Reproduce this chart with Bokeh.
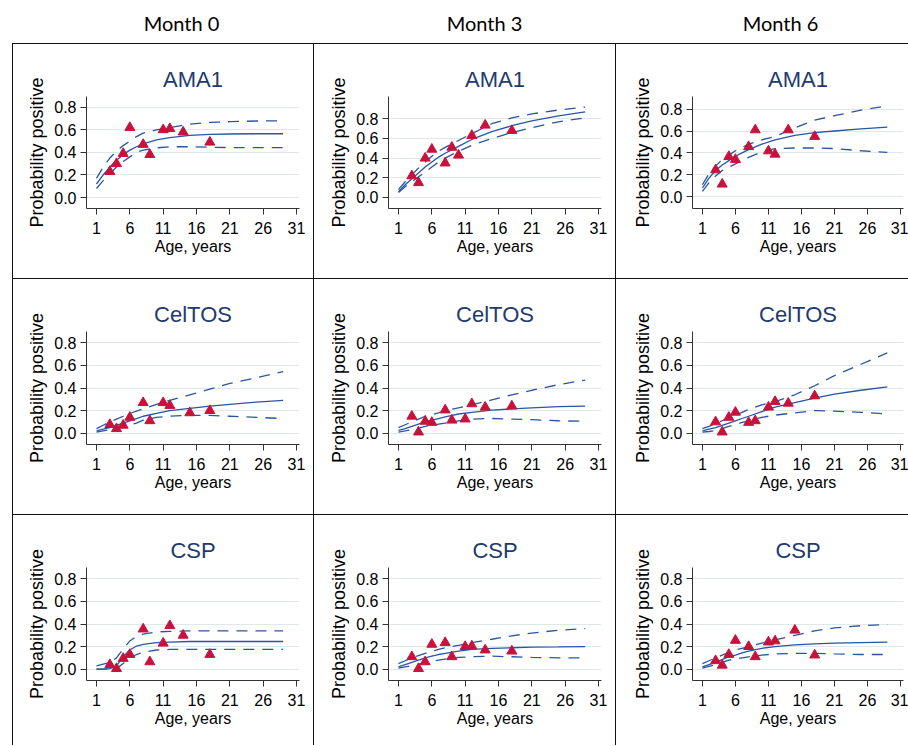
from bokeh.plotting import figure
from bokeh.layouts import column, row
from bokeh.models import Range1d, FixedTicker, PrintfTickFormatter
from bokeh.embed import file_html
from bokeh.resources import INLINE
from bokeh.core.properties import value

# ---------------- data ----------------
months = ["Month 0", "Month 3", "Month 6"]
antigens = ["AMA1", "CelTOS", "CSP"]
x_ticks = [1, 6, 11, 16, 21, 26, 31]
y_ticks = [0.0, 0.2, 0.4, 0.6, 0.8]

# ages at which the fitted curve and its confidence limits are read
fit_age = [1, 2, 3, 4, 5, 6, 7, 8, 10, 12, 15, 18, 21, 25, 29]

# AMA1, Month 0
ama1_m0_age = [3, 4, 5, 6, 8, 9, 11, 12, 14, 18]
ama1_m0_obs = [0.23, 0.30, 0.39, 0.62, 0.47, 0.38, 0.60, 0.61, 0.58, 0.49]
ama1_m0_fit = [0.12, 0.20, 0.27, 0.33, 0.38, 0.42, 0.45, 0.475, 0.51, 0.53, 0.55, 0.56, 0.563, 0.565, 0.565]
ama1_m0_hi = [0.17, 0.27, 0.35, 0.41, 0.46, 0.50, 0.54, 0.57, 0.60, 0.62, 0.65, 0.665, 0.672, 0.678, 0.68]
ama1_m0_lo = [0.08, 0.15, 0.21, 0.27, 0.32, 0.36, 0.40, 0.42, 0.44, 0.45, 0.45, 0.445, 0.443, 0.442, 0.442]

# AMA1, Month 3
ama1_m3_age = [3, 4, 5, 6, 8, 9, 10, 12, 14, 18]
ama1_m3_obs = [0.22, 0.15, 0.40, 0.49, 0.35, 0.51, 0.43, 0.63, 0.735, 0.68]
ama1_m3_fit = [0.06, 0.13, 0.19, 0.25, 0.31, 0.36, 0.41, 0.45, 0.52, 0.59, 0.67, 0.73, 0.78, 0.83, 0.87]
ama1_m3_hi = [0.08, 0.16, 0.23, 0.30, 0.36, 0.42, 0.47, 0.51, 0.58, 0.65, 0.75, 0.81, 0.85, 0.89, 0.92]
ama1_m3_lo = [0.05, 0.11, 0.16, 0.21, 0.26, 0.31, 0.36, 0.40, 0.47, 0.53, 0.60, 0.66, 0.71, 0.77, 0.81]

# AMA1, Month 6
ama1_m6_age = [3, 4, 5, 6, 8, 9, 11, 12, 14, 18]
ama1_m6_obs = [0.245, 0.115, 0.367, 0.34, 0.457, 0.61, 0.418, 0.388, 0.61, 0.55]
ama1_m6_fit = [0.08, 0.17, 0.24, 0.29, 0.33, 0.37, 0.40, 0.43, 0.48, 0.52, 0.56, 0.585, 0.60, 0.62, 0.635]
ama1_m6_hi = [0.11, 0.21, 0.28, 0.34, 0.38, 0.42, 0.45, 0.48, 0.52, 0.55, 0.63, 0.70, 0.74, 0.79, 0.83]
ama1_m6_lo = [0.05, 0.13, 0.19, 0.24, 0.27, 0.30, 0.33, 0.36, 0.41, 0.44, 0.445, 0.445, 0.44, 0.42, 0.405]

# CelTOS, Month 0
celtos_m0_age = [3, 4, 5, 6, 8, 9, 11, 12, 15, 18]
celtos_m0_obs = [0.076, 0.04, 0.07, 0.14, 0.27, 0.11, 0.27, 0.245, 0.18, 0.20]
celtos_m0_fit = [0.02, 0.035, 0.05, 0.07, 0.09, 0.11, 0.13, 0.15, 0.175, 0.20, 0.22, 0.24, 0.255, 0.275, 0.29]
celtos_m0_hi = [0.04, 0.07, 0.10, 0.125, 0.15, 0.175, 0.195, 0.215, 0.255, 0.29, 0.34, 0.39, 0.44, 0.49, 0.545]
celtos_m0_lo = [0.01, 0.02, 0.03, 0.045, 0.06, 0.075, 0.09, 0.115, 0.14, 0.15, 0.158, 0.158, 0.15, 0.14, 0.13]

# CelTOS, Month 3
celtos_m3_age = [3, 4, 5, 6, 8, 9, 11, 12, 14, 18]
celtos_m3_obs = [0.15, 0.01, 0.105, 0.095, 0.205, 0.115, 0.125, 0.26, 0.23, 0.24]
celtos_m3_fit = [0.025, 0.04, 0.06, 0.08, 0.10, 0.115, 0.13, 0.145, 0.17, 0.185, 0.205, 0.215, 0.225, 0.235, 0.24]
celtos_m3_hi = [0.05, 0.075, 0.10, 0.125, 0.15, 0.165, 0.18, 0.20, 0.225, 0.25, 0.295, 0.34, 0.38, 0.43, 0.47]
celtos_m3_lo = [0.01, 0.02, 0.03, 0.045, 0.06, 0.07, 0.08, 0.09, 0.11, 0.125, 0.13, 0.125, 0.12, 0.11, 0.105]

# CelTOS, Month 6
celtos_m6_age = [3, 4, 5, 6, 8, 9, 11, 12, 14, 18]
celtos_m6_obs = [0.10, 0.01, 0.14, 0.185, 0.095, 0.11, 0.23, 0.28, 0.265, 0.33]
celtos_m6_fit = [0.02, 0.035, 0.05, 0.07, 0.09, 0.11, 0.13, 0.15, 0.19, 0.23, 0.27, 0.31, 0.345, 0.38, 0.41]
celtos_m6_hi = [0.04, 0.06, 0.085, 0.11, 0.135, 0.16, 0.185, 0.21, 0.25, 0.28, 0.34, 0.42, 0.51, 0.61, 0.71]
celtos_m6_lo = [0.01, 0.015, 0.025, 0.04, 0.06, 0.075, 0.095, 0.11, 0.14, 0.16, 0.18, 0.20, 0.195, 0.185, 0.17]

# CSP, Month 0
csp_m0_age = [3, 4, 5, 6, 8, 9, 11, 12, 14, 18]
csp_m0_obs = [0.04, 0.005, 0.095, 0.13, 0.355, 0.065, 0.23, 0.385, 0.30, 0.13]
csp_m0_fit = [0.0, 0.0, 0.005, 0.03, 0.11, 0.17, 0.205, 0.22, 0.235, 0.24, 0.245, 0.245, 0.245, 0.245, 0.245]
csp_m0_hi = [0.03, 0.045, 0.06, 0.10, 0.18, 0.25, 0.29, 0.31, 0.33, 0.335, 0.34, 0.34, 0.34, 0.34, 0.34]
csp_m0_lo = [0.0, 0.0, 0.0, 0.005, 0.05, 0.10, 0.13, 0.15, 0.17, 0.175, 0.175, 0.175, 0.175, 0.175, 0.175]

# CSP, Month 3
csp_m3_age = [3, 4, 5, 6, 8, 9, 11, 12, 14, 18]
csp_m3_obs = [0.11, 0.005, 0.065, 0.22, 0.235, 0.11, 0.20, 0.205, 0.17, 0.16]
csp_m3_fit = [0.02, 0.04, 0.06, 0.08, 0.10, 0.115, 0.13, 0.14, 0.16, 0.175, 0.185, 0.19, 0.195, 0.197, 0.20]
csp_m3_hi = [0.05, 0.075, 0.10, 0.12, 0.14, 0.16, 0.175, 0.19, 0.21, 0.235, 0.265, 0.295, 0.32, 0.345, 0.36]
csp_m3_lo = [0.01, 0.02, 0.03, 0.045, 0.06, 0.07, 0.08, 0.09, 0.105, 0.11, 0.115, 0.11, 0.105, 0.10, 0.10]

# CSP, Month 6
csp_m6_age = [3, 4, 5, 6, 8, 9, 11, 12, 15, 18]
csp_m6_obs = [0.075, 0.035, 0.13, 0.255, 0.20, 0.11, 0.24, 0.25, 0.345, 0.125]
csp_m6_fit = [0.02, 0.04, 0.06, 0.085, 0.11, 0.125, 0.145, 0.16, 0.185, 0.20, 0.215, 0.225, 0.23, 0.235, 0.24]
csp_m6_hi = [0.05, 0.075, 0.10, 0.125, 0.15, 0.17, 0.185, 0.20, 0.23, 0.26, 0.30, 0.34, 0.365, 0.385, 0.395]
csp_m6_lo = [0.01, 0.025, 0.04, 0.06, 0.08, 0.09, 0.10, 0.11, 0.125, 0.135, 0.14, 0.14, 0.135, 0.13, 0.13]

panels = [
    [(ama1_m0_age, ama1_m0_obs, ama1_m0_fit, ama1_m0_lo, ama1_m0_hi),
     (ama1_m3_age, ama1_m3_obs, ama1_m3_fit, ama1_m3_lo, ama1_m3_hi),
     (ama1_m6_age, ama1_m6_obs, ama1_m6_fit, ama1_m6_lo, ama1_m6_hi)],
    [(celtos_m0_age, celtos_m0_obs, celtos_m0_fit, celtos_m0_lo, celtos_m0_hi),
     (celtos_m3_age, celtos_m3_obs, celtos_m3_fit, celtos_m3_lo, celtos_m3_hi),
     (celtos_m6_age, celtos_m6_obs, celtos_m6_fit, celtos_m6_lo, celtos_m6_hi)],
    [(csp_m0_age, csp_m0_obs, csp_m0_fit, csp_m0_lo, csp_m0_hi),
     (csp_m3_age, csp_m3_obs, csp_m3_fit, csp_m3_lo, csp_m3_hi),
     (csp_m6_age, csp_m6_obs, csp_m6_fit, csp_m6_lo, csp_m6_hi)],
]

# ---------------- layout / style ----------------
FONT = "Liberation Sans"
LINE_BLUE = "#2856a3"
TRI_RED = "#c8123c"
TITLE_BLUE = "#1e3a6e"
GRID = "#dfe7e9"
BORDER = "1.5px solid #111111"

col_widths = [301, 302, 293]
col_frame_left = [73, 74, 76]
col_border_right = [15, 15, 6]
row_heights = [235, 236, 231]
frame_top = 52
frame_bottom_from_top = [164, 165, 165]
y_ranges = [[(-0.097, 0.895), (-0.112, 1.027), (-0.107, 0.915)],
            [(-0.1, 0.9), (-0.1, 0.9), (-0.1, 0.9)],
            [(-0.1, 0.9), (-0.1, 0.9), (-0.1, 0.9)]]
x_lo, x_hi = -0.5, 31.45


def make_panel(r, c):
    ages, obs, fit, lo, hi = panels[r][c]
    h = row_heights[r]
    p = figure(width=col_widths[c], height=h,
               x_range=Range1d(x_lo, x_hi), y_range=Range1d(*y_ranges[r][c]),
               output_backend="svg", toolbar_location=None,
               min_border_left=col_frame_left[c], min_border_right=col_border_right[c],
               min_border_top=frame_top, min_border_bottom=h - frame_bottom_from_top[r],
               title=antigens[r])
    p.title.align = "center"
    p.title.text_font = FONT
    p.title.text_font_size = "22px"
    p.title.text_font_style = "normal"
    p.title.text_color = TITLE_BLUE
    p.title.standoff = 9
    p.outline_line_color = None
    p.background_fill_color = "white"
    p.border_fill_color = "white"

    p.xaxis.ticker = FixedTicker(ticks=x_ticks)
    p.yaxis.ticker = FixedTicker(ticks=y_ticks)
    p.yaxis.formatter = PrintfTickFormatter(format="%.1f")
    p.xaxis.axis_label = "Age, years"
    p.yaxis.axis_label = "Probability positive"
    for ax in (p.xaxis, p.yaxis):
        ax.axis_line_color = "#333333"
        ax.major_tick_line_color = "#333333"
        ax.major_tick_out = 6
        ax.major_tick_in = 0
        ax.minor_tick_out = 0
        ax.minor_tick_in = 0
        ax.major_label_text_font = FONT
        ax.major_label_text_font_size = "16px"
        ax.major_label_text_color = "black"
        ax.axis_label_text_font = FONT
        ax.axis_label_text_font_style = "normal"
        ax.axis_label_text_color = "black"
    p.xaxis.major_label_standoff = 7
    p.yaxis.major_label_standoff = 4
    p.xaxis.axis_label_text_font_size = "16px"
    p.yaxis.axis_label_text_font_size = "18px"
    p.xaxis.axis_label_standoff = 1
    p.yaxis.axis_label_standoff = 4
    p.yaxis.major_label_orientation = "horizontal"

    p.xgrid.visible = False
    p.ygrid.ticker = FixedTicker(ticks=y_ticks)
    p.ygrid.grid_line_color = GRID
    p.ygrid.grid_line_width = 1.2

    p.line(fit_age, hi, line_color=LINE_BLUE, line_width=1.3, line_dash="11 8")
    p.line(fit_age, lo, line_color=LINE_BLUE, line_width=1.3, line_dash="11 8")
    p.line(fit_age, fit, line_color=LINE_BLUE, line_width=1.3)
    p.scatter(ages, obs, marker="triangle", size=10, fill_color=TRI_RED, line_color=TRI_RED)

    p.styles = {"border-top": BORDER, "border-left": BORDER}
    if c == 0:
        p.margin = (0, 0, 0, 12)
    return p


# header with the column captions (page pixels across the top band)
header_x = [181, 484, 780]
header = figure(width=908, height=43, x_range=Range1d(0, 908), y_range=Range1d(0, 43),
                output_backend="svg", toolbar_location=None,
                min_border_left=0, min_border_right=0, min_border_top=0, min_border_bottom=0)
header.axis.visible = False
header.grid.visible = False
header.outline_line_color = None
header.text(x=header_x, y=[21, 21, 21], text=months, text_font=value("Lato"),
            text_font_size="20px", text_color="black", text_align="center",
            text_baseline="middle")

rows = [row(*[make_panel(r, c) for c in range(3)]) for r in range(3)]
layout = column(header, *rows)

open("out.html", "w").write(file_html(layout, INLINE))
